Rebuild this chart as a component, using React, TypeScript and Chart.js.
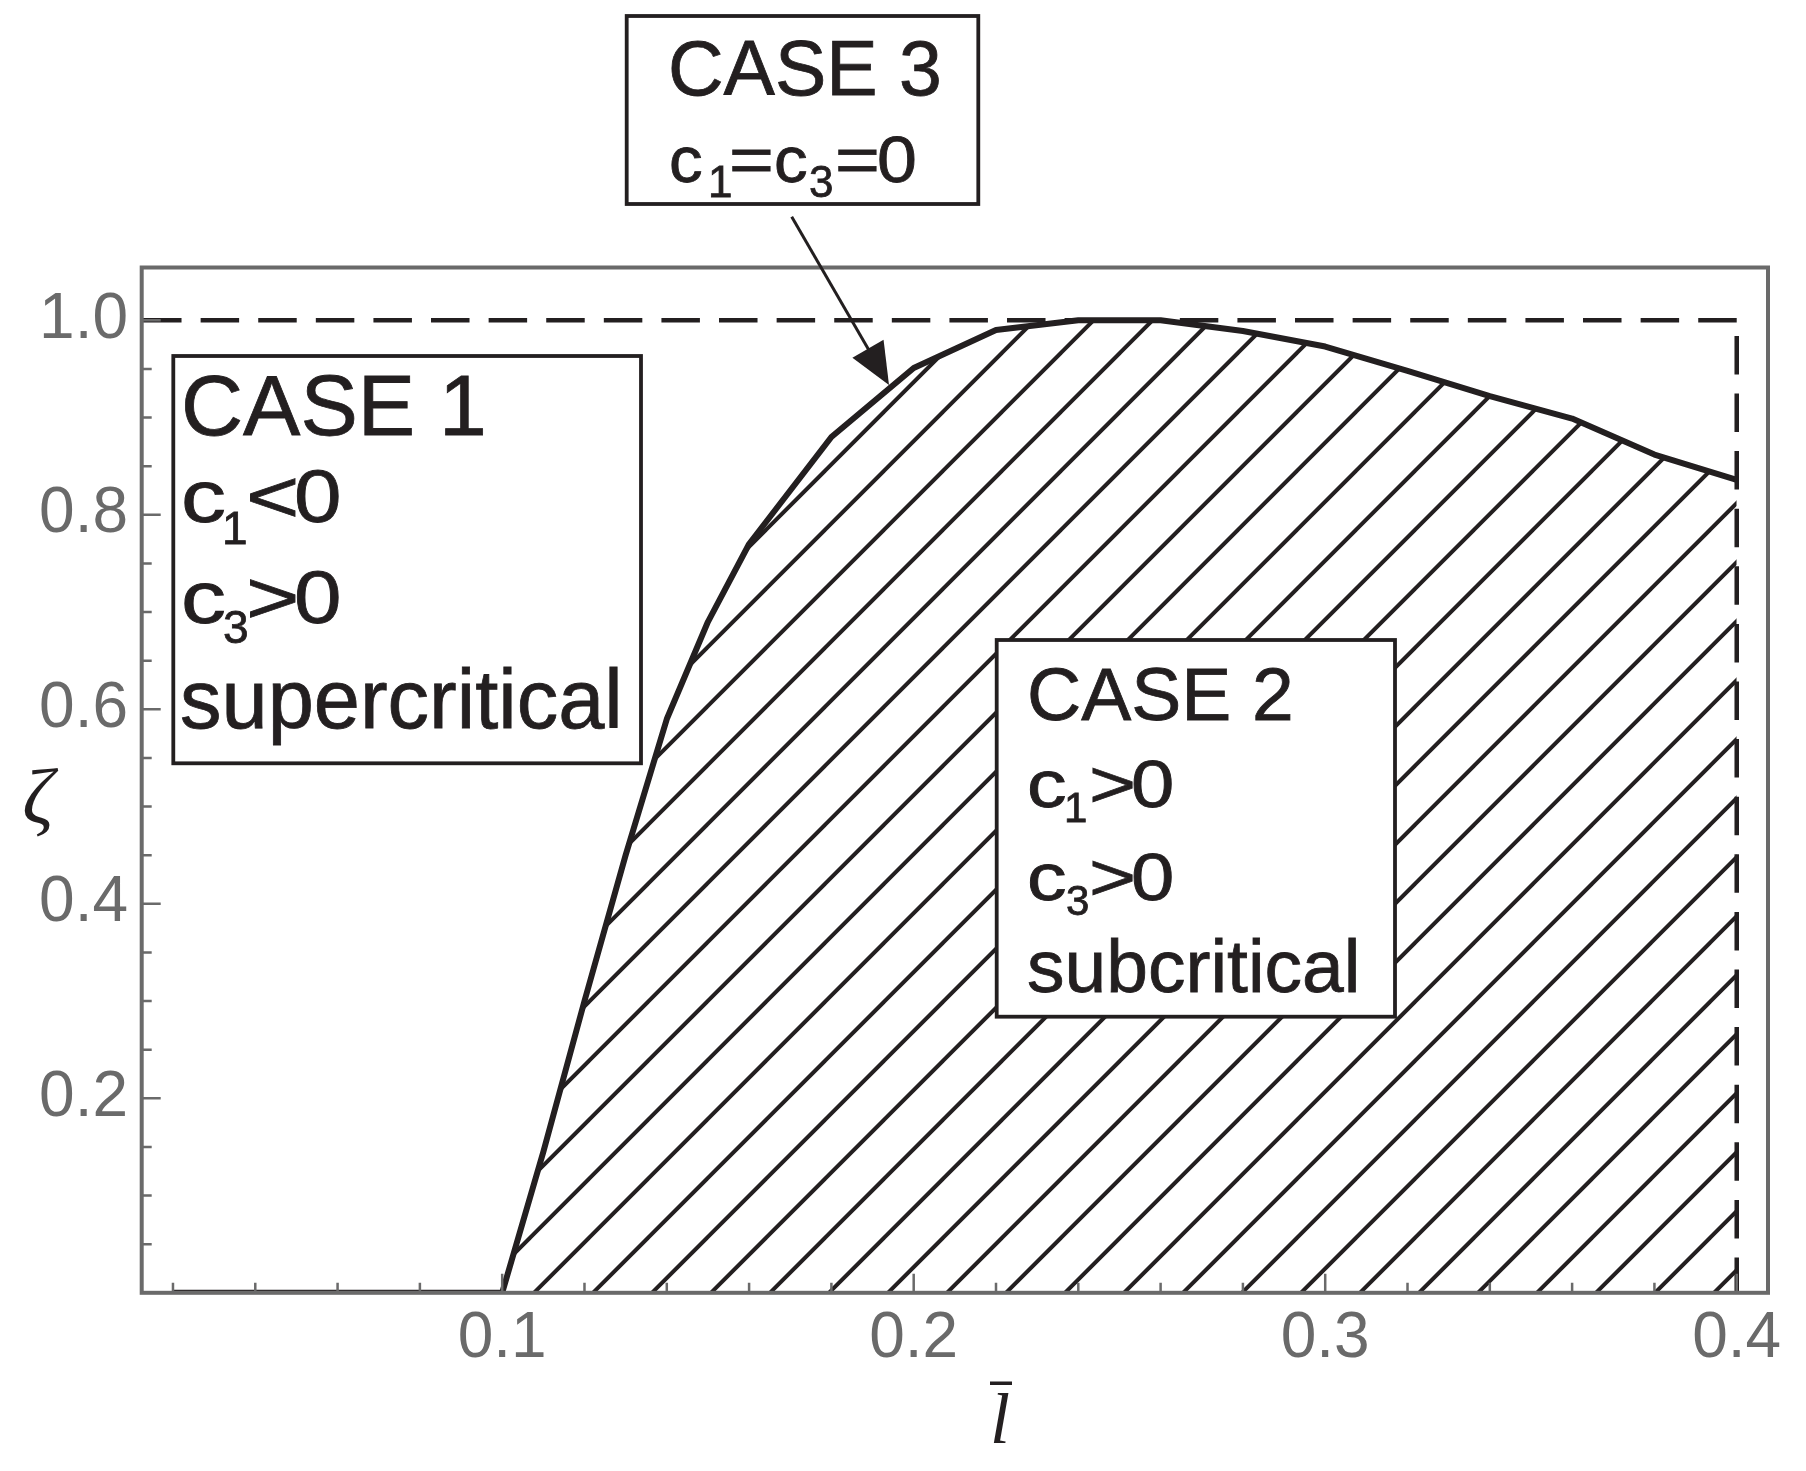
import { useEffect, useRef } from 'react';
import { Chart, registerables } from 'chart.js';

Chart.register(...registerables);

// ---- data ----
const lBar = [0.02, 0.1, 0.11, 0.12, 0.13, 0.14, 0.15, 0.16, 0.18, 0.2, 0.22, 0.24, 0.26, 0.28, 0.3, 0.32, 0.34, 0.36, 0.38, 0.4];
const zeta = [0, 0, 0.145, 0.30, 0.45, 0.59, 0.69, 0.77, 0.88, 0.951, 0.99, 1.0, 1.0, 0.989, 0.973, 0.948, 0.922, 0.899, 0.862, 0.836];

const refLevel = 1.0; // dashed horizontal bound
const refEdge = 0.4; // dashed vertical bound

const xRange = [0.0124, 0.4076];
const yRange = [0, 1.0543];
const xMajorStep = 0.1;
const yMajorStep = 0.2;
const xMinorTicks = [0.02, 0.04, 0.06, 0.08, 0.12, 0.14, 0.16, 0.18, 0.22, 0.24, 0.26, 0.28, 0.32, 0.34, 0.36, 0.38];
const yMinorTicks = [0.05, 0.1, 0.15, 0.25, 0.3, 0.35, 0.45, 0.5, 0.55, 0.65, 0.7, 0.75, 0.85, 0.9, 0.95];

const xTitle = 'l';
const yTitle = 'ζ';

// ---- styles ----
const INK = '#231f20';
const GRAY = '#6a6a6a';
const SANS = '"Liberation Sans", Arial, Helvetica, sans-serif';
const SERIF = '"Liberation Serif", "Times New Roman", serif';

type Run = { t: string; x: number; y: number; size: number; sx?: number };
type Box = { rect: [number, number, number, number]; runs: Run[] };

const boxes: Box[] = [
  {
    rect: [173.3, 356, 641, 763.3],
    runs: [
      { t: 'CASE 1', x: 181, y: 435, size: 86 },
      { t: 'c', x: 181, y: 521.7, size: 75, sx: 1.2 },
      { t: '1', x: 222, y: 544, size: 46 },
      { t: '<', x: 246, y: 521.7, size: 75, sx: 1.22 },
      { t: '0', x: 294, y: 521.7, size: 75, sx: 1.14 },
      { t: 'c', x: 181, y: 623.3, size: 75, sx: 1.2 },
      { t: '3', x: 223, y: 643, size: 46 },
      { t: '>', x: 246, y: 623.3, size: 75, sx: 1.22 },
      { t: '0', x: 294, y: 623.3, size: 75, sx: 1.14 },
      { t: 'supercritical', x: 180, y: 728.3, size: 83 },
    ],
  },
  {
    rect: [996.7, 640, 1395, 1016.7],
    runs: [
      { t: 'CASE 2', x: 1027, y: 720, size: 75 },
      { t: 'c', x: 1027, y: 806.7, size: 66, sx: 1.2 },
      { t: '1', x: 1064, y: 821.7, size: 42 },
      { t: '>', x: 1089, y: 806.7, size: 66, sx: 1.22 },
      { t: '0', x: 1131, y: 806.7, size: 66, sx: 1.18 },
      { t: 'c', x: 1027, y: 900, size: 66, sx: 1.2 },
      { t: '3', x: 1066, y: 915, size: 42 },
      { t: '>', x: 1089, y: 900, size: 66, sx: 1.22 },
      { t: '0', x: 1131, y: 900, size: 66, sx: 1.18 },
      { t: 'subcritical', x: 1027, y: 991.7, size: 75 },
    ],
  },
  {
    rect: [626.7, 16, 978.3, 204],
    runs: [
      { t: 'CASE 3', x: 668, y: 95, size: 77 },
      { t: 'c', x: 669, y: 181.7, size: 64, sx: 1.05 },
      { t: '1', x: 708, y: 196.7, size: 44 },
      { t: '=', x: 729, y: 181.7, size: 64, sx: 1.2 },
      { t: 'c', x: 774, y: 181.7, size: 64, sx: 1.05 },
      { t: '3', x: 809, y: 196.7, size: 44 },
      { t: '=', x: 835, y: 181.7, size: 64, sx: 1.2 },
      { t: '0', x: 877, y: 181.7, size: 64, sx: 1.12 },
    ],
  },
];

const arrow = { from: [791.7, 216.7], to: [889, 385], head: 42, halfWidth: 18 };
const hatch = { size: 59, phase: 1826.8, width: 4 };

const framePlugin = {
  id: 'frameTicks',
  afterDatasetsDraw(chart: any) {
    const { ctx, chartArea, scales } = chart;
    const { left, top, right, bottom } = chartArea;
    const xs = scales.x;
    const ys = scales.y;
    ctx.save();
    ctx.strokeStyle = GRAY;
    ctx.lineWidth = 2.5;
    ctx.beginPath();
    xs.ticks.forEach((t: any) => {
      const px = xs.getPixelForValue(t.value);
      ctx.moveTo(px, bottom);
      ctx.lineTo(px, bottom - 19);
    });
    xMinorTicks.forEach((v) => {
      const px = xs.getPixelForValue(v);
      ctx.moveTo(px, bottom);
      ctx.lineTo(px, bottom - 10);
    });
    ys.ticks.forEach((t: any) => {
      if (t.value <= 0) return;
      const py = ys.getPixelForValue(t.value);
      ctx.moveTo(left, py);
      ctx.lineTo(left + 19, py);
    });
    yMinorTicks.forEach((v) => {
      const py = ys.getPixelForValue(v);
      ctx.moveTo(left, py);
      ctx.lineTo(left + 10, py);
    });
    ctx.stroke();
    ctx.lineWidth = 4;
    ctx.strokeRect(left, top, right - left, bottom - top);
    ctx.restore();
  },
};

const annotationPlugin = {
  id: 'annotations',
  afterDraw(chart: any) {
    const { ctx } = chart;
    ctx.save();
    // boxes
    boxes.forEach((b) => {
      const [x0, y0, x1, y1] = b.rect;
      ctx.fillStyle = '#ffffff';
      ctx.fillRect(x0, y0, x1 - x0, y1 - y0);
      ctx.strokeStyle = INK;
      ctx.lineWidth = 3.8;
      ctx.strokeRect(x0, y0, x1 - x0, y1 - y0);
      ctx.fillStyle = INK;
      ctx.strokeStyle = INK;
      ctx.lineWidth = 0.8;
      ctx.textAlign = 'left';
      ctx.textBaseline = 'alphabetic';
      b.runs.forEach((r) => {
        ctx.save();
        ctx.font = `${r.size}px ${SANS}`;
        ctx.translate(r.x, r.y);
        ctx.scale(r.sx || 1, 1);
        ctx.fillText(r.t, 0, 0);
        ctx.strokeText(r.t, 0, 0);
        ctx.restore();
      });
    });
    // arrow
    const [ax, ay] = arrow.from;
    const [bx, by] = arrow.to;
    const dx = bx - ax;
    const dy = by - ay;
    const len = Math.hypot(dx, dy);
    const ux = dx / len;
    const uy = dy / len;
    const baseX = bx - ux * arrow.head;
    const baseY = by - uy * arrow.head;
    ctx.strokeStyle = INK;
    ctx.lineWidth = 3;
    ctx.beginPath();
    ctx.moveTo(ax, ay);
    ctx.lineTo(baseX + ux * 4, baseY + uy * 4);
    ctx.stroke();
    ctx.fillStyle = INK;
    ctx.beginPath();
    ctx.moveTo(bx, by);
    ctx.lineTo(baseX + uy * arrow.halfWidth, baseY - ux * arrow.halfWidth);
    ctx.lineTo(baseX - uy * arrow.halfWidth, baseY + ux * arrow.halfWidth);
    ctx.closePath();
    ctx.fill();
    // axis titles
    ctx.fillStyle = INK;
    ctx.textAlign = 'center';
    ctx.textBaseline = 'alphabetic';
    ctx.font = `italic 78px ${SERIF}`;
    ctx.fillText(yTitle, 38, 823);
    ctx.font = `italic 72px ${SERIF}`;
    ctx.fillText(xTitle, 1000, 1443);
    ctx.fillRect(990, 1381.5, 22, 3.5);
    ctx.restore();
  },
};

export default function App() {
  const ref = useRef<HTMLCanvasElement | null>(null);

  useEffect(() => {
    const canvas = ref.current;
    if (!canvas) return;

    const tile = document.createElement('canvas');
    tile.width = hatch.size;
    tile.height = hatch.size;
    const tctx = tile.getContext('2d')!;
    tctx.strokeStyle = INK;
    tctx.lineWidth = hatch.width;
    const s = hatch.size;
    const ph = hatch.phase % s;
    tctx.beginPath();
    for (let k = -2; k <= 3; k++) {
      const c = ph + k * s;
      tctx.moveTo(c + s, -s);
      tctx.lineTo(c - 2 * s, 2 * s);
    }
    tctx.stroke();
    const pattern = canvas.getContext('2d')!.createPattern(tile, 'repeat');

    const curve = lBar.map((v, i) => ({ x: v, y: zeta[i] }));

    const chart = new Chart(canvas, {
      type: 'line',
      data: {
        datasets: [
          {
            data: curve,
            borderColor: INK,
            borderWidth: 6,
            borderJoinStyle: 'round',
            pointRadius: 0,
            tension: 0,
            fill: 'origin',
            backgroundColor: pattern as any,
          },
          {
            data: [
              { x: refEdge, y: refLevel },
              { x: xRange[0], y: refLevel },
            ],
            borderColor: INK,
            borderWidth: 4.5,
            borderDash: [38.5, 19.1],
            pointRadius: 0,
            fill: false,
          },
          {
            data: [
              { x: refEdge, y: refLevel },
              { x: refEdge, y: yRange[0] },
            ],
            borderColor: INK,
            borderWidth: 4.5,
            borderDash: [38.5, 19.1],
            borderDashOffset: 42,
            pointRadius: 0,
            fill: false,
          },
        ],
      },
      options: {
        animation: false,
        responsive: true,
        maintainAspectRatio: false,
        events: [],
        layout: { padding: { top: 267.5, right: 38, left: 0, bottom: 0 } },
        plugins: { legend: { display: false }, tooltip: { enabled: false } },
        scales: {
          x: {
            type: 'linear',
            min: xRange[0],
            max: xRange[1],
            grid: { display: false, drawTicks: false },
            border: { display: false },
            ticks: {
              stepSize: xMajorStep,
              includeBounds: false,
              padding: 8,
              color: GRAY,
              font: { family: SANS, size: 64 },
              maxRotation: 0,
              autoSkip: false,
              callback: (v: any) => Number(v).toFixed(1),
            },
            afterFit: (scale: any) => {
              scale.height = 178.2;
            },
          },
          y: {
            type: 'linear',
            min: yRange[0],
            max: yRange[1],
            grid: { display: false, drawTicks: false },
            border: { display: false },
            ticks: {
              stepSize: yMajorStep,
              includeBounds: false,
              padding: 13.7,
              color: GRAY,
              font: { family: SANS, size: 64 },
              autoSkip: false,
              callback: (v: any) => (Number(v) === 0 ? '' : Number(v).toFixed(1)),
            },
            afterFit: (scale: any) => {
              scale.width = 141.7;
            },
          },
        },
      },
      plugins: [framePlugin, annotationPlugin],
    });

    return () => chart.destroy();
  }, []);

  return (
    <div style={{ position: 'absolute', left: 0, top: 0, width: 1806, height: 1471, background: '#ffffff' }}>
      <canvas ref={ref} />
    </div>
  );
}
